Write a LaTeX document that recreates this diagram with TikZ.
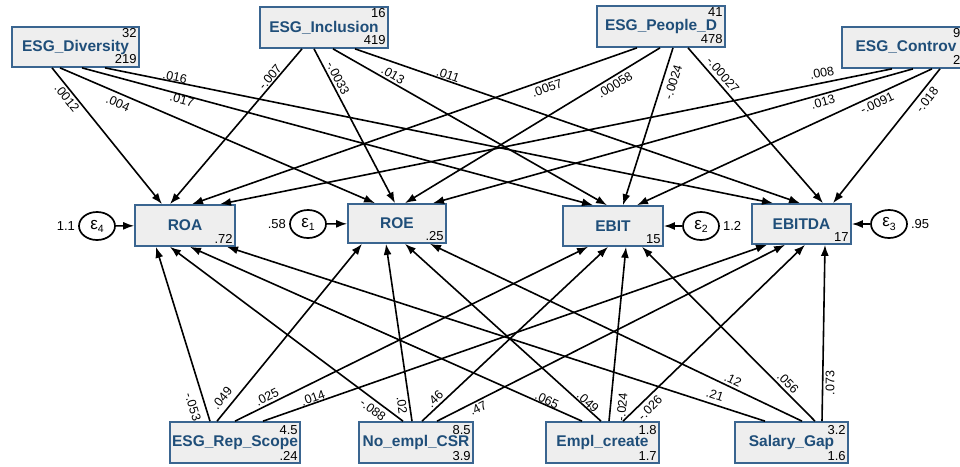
\documentclass[tikz,border=0pt]{standalone}
\usepackage{fontspec}
\setmainfont{Liberation Sans}
\usetikzlibrary{arrows.meta,shapes.geometric}
\definecolor{boxline}{HTML}{3A6590}
\definecolor{boxfill}{HTML}{EEEEEE}
\definecolor{navy}{HTML}{1F4E79}
\begin{document}
\begin{tikzpicture}[x=1pt,y=-1pt,
  var/.style={draw=boxline, fill=boxfill, line width=1.7pt, inner sep=0pt, text=navy, font=\fontsize{15.5}{18}\selectfont\bfseries},
  num/.style={inner sep=0pt, font=\fontsize{13}{15}\selectfont},
  elab/.style={inner sep=0pt, font=\fontsize{12.5}{14}\selectfont},
  err/.style={draw, ellipse, line width=1.7pt, minimum width=36pt, minimum height=28pt, inner sep=0pt, font=\fontsize{17}{19}\selectfont},
  arr/.style={line width=1.6pt, -{Latex[length=11pt,width=8pt]}},
]
\useasboundingbox (0,0) rectangle (960,466);
\clip (0,0) rectangle (960,466);

% exogenous (top)
\node[var, minimum width=127pt, minimum height=40pt] (div) at (75.5,47) {ESG\_Diversity};
\node[var, minimum width=128pt, minimum height=41pt] (incl) at (324,27.5) {ESG\_Inclusion};
\node[var, minimum width=128pt, minimum height=41pt] (peop) at (661,26.5) {ESG\_People\_D};
\node[var, minimum width=128pt, minimum height=41pt] (cont) at (906,47.5) {ESG\_Controv};
\node[num, anchor=north east] (divm) at ([shift={(-3,2)}]div.north east) {32};
\node[num, anchor=south east] (divv) at ([shift={(-3,-4)}]div.south east) {219};
\node[num, anchor=north east] (inclm) at ([shift={(-3,2)}]incl.north east) {16};
\node[num, anchor=south east] (inclv) at ([shift={(-3,-4)}]incl.south east) {419};
\node[num, anchor=north east] (peopm) at ([shift={(-3,2)}]peop.north east) {41};
\node[num, anchor=south east] (peopv) at ([shift={(-3,-4)}]peop.south east) {478};
\node[num, anchor=north east] (contm) at ([shift={(-3,2)}]cont.north east) {99};
\node[num, anchor=south east] (contv) at ([shift={(-3,-4)}]cont.south east) {20};

% endogenous (middle)
\node[var, minimum width=100pt, minimum height=41pt] (roa) at (185,225.5) {ROA};
\node[var, minimum width=98pt, minimum height=39pt] (roe) at (397,223.5) {ROE};
\node[var, minimum width=100pt, minimum height=40pt] (ebit) at (613,226) {EBIT};
\node[var, minimum width=99pt, minimum height=40pt] (ebitda) at (801.5,224) {EBITDA};
\node[num, anchor=south east] (roai) at ([shift={(-3,-3)}]roa.south east) {.72};
\node[num, anchor=south east] (roei) at ([shift={(-3,-3)}]roe.south east) {.25};
\node[num, anchor=south east] (ebiti) at ([shift={(-3,-3)}]ebit.south east) {15};
\node[num, anchor=south east] (ebitdai) at ([shift={(-3,-3)}]ebitda.south east) {17};

% exogenous (bottom)
\node[var, minimum width=130pt, minimum height=41pt] (rep) at (235,442.5) {ESG\_Rep\_Scope};
\node[var, minimum width=114pt, minimum height=41pt] (noe) at (416,442.5) {No\_empl\_CSR};
\node[var, minimum width=113pt, minimum height=41pt] (emp) at (602.5,442.5) {Empl\_create};
\node[var, minimum width=113pt, minimum height=41pt] (sal) at (791.5,442.5) {Salary\_Gap};
\node[num, anchor=north east] (repm) at ([shift={(-3,4)}]rep.north east) {4.5};
\node[num, anchor=south east] (repv) at ([shift={(-3,-3)}]rep.south east) {.24};
\node[num, anchor=north east] (noem) at ([shift={(-3,4)}]noe.north east) {8.5};
\node[num, anchor=south east] (noev) at ([shift={(-3,-3)}]noe.south east) {3.9};
\node[num, anchor=north east] (empm) at ([shift={(-3,4)}]emp.north east) {1.8};
\node[num, anchor=south east] (empv) at ([shift={(-3,-3)}]emp.south east) {1.7};
\node[num, anchor=north east] (salm) at ([shift={(-3,4)}]sal.north east) {3.2};
\node[num, anchor=south east] (salv) at ([shift={(-3,-3)}]sal.south east) {1.6};

% errors
\node[err] (e4) at (97,226) {ε\raisebox{-0.35ex}{\fontsize{10.5}{11}\selectfont 4}};
\node[err] (e1) at (308,224) {ε\raisebox{-0.35ex}{\fontsize{10.5}{11}\selectfont 1}};
\node[err] (e2) at (701,226) {ε\raisebox{-0.35ex}{\fontsize{10.5}{11}\selectfont 2}};
\node[err] (e3) at (889,224) {ε\raisebox{-0.35ex}{\fontsize{10.5}{11}\selectfont 3}};
\node[num, anchor=east] (v4) at ([xshift=-3pt]e4.west) {1.1};
\node[num, anchor=east] (v1) at ([xshift=-3pt]e1.west) {.58};
\node[num, anchor=west] (v2) at ([xshift=3pt]e2.east) {1.2};
\node[num, anchor=west] (v3) at ([xshift=3pt]e3.east) {.95};
\draw[arr] (e4) -- (roa);
\draw[arr] (e1) -- (roe);
\draw[arr] (e2) -- (ebit);
\draw[arr] (e3) -- (ebitda);

% top paths
\draw[arr] ([xshift=-23.5pt]div.south) -- ([xshift=-23pt]roa.north);
\draw[arr] ([xshift=-15.5pt]div.south) -- ([xshift=-22pt]roe.north);
\draw[arr] ([xshift=6.5pt]div.south) -- ([xshift=-20pt]ebit.north);
\draw[arr] ([xshift=29.5pt]div.south) -- ([xshift=-28.5pt]ebitda.north);
\draw[arr] ([xshift=-22pt]incl.south) -- ([xshift=-15pt]roa.north);
\draw[arr] ([xshift=-10pt]incl.south) -- ([xshift=-2pt]roe.north);
\draw[arr] ([xshift=9pt]incl.south) -- ([xshift=-6pt]ebit.north);
\draw[arr] ([xshift=31pt]incl.south) -- ([xshift=-1.5pt]ebitda.north);
\draw[arr] ([xshift=-24pt]peop.south) -- ([xshift=7pt]roa.north);
\draw[arr] ([xshift=-1pt]peop.south) -- ([xshift=8pt]roe.north);
\draw[arr] ([xshift=12pt]peop.south) -- ([xshift=10pt]ebit.north);
\draw[arr] ([xshift=27pt]peop.south) -- ([xshift=21.5pt]ebitda.north);
\draw[arr] ([xshift=-14pt]cont.south) -- ([xshift=35pt]roa.north);
\draw[arr] ([xshift=7pt]cont.south) -- ([xshift=36pt]roe.north);
\draw[arr] ([xshift=26pt]cont.south) -- ([xshift=24pt]ebit.north);
\draw[arr] ([xshift=34pt]cont.south) -- ([xshift=31.5pt]ebitda.north);

% bottom paths
\draw[arr] ([xshift=-25pt]rep.north) -- ([xshift=-29pt]roa.south);
\draw[arr] ([xshift=-18pt]rep.north) -- ([xshift=-35pt]roe.south);
\draw[arr] ([xshift=0pt]rep.north) -- ([xshift=-25pt]ebit.south);
\draw[arr] ([xshift=28pt]rep.north) -- ([xshift=-34.5pt]ebitda.south);
\draw[arr] ([xshift=-13pt]noe.north) -- ([xshift=-15pt]roa.south);
\draw[arr] ([xshift=-4pt]noe.north) -- ([xshift=-11pt]roe.south);
\draw[arr] ([xshift=6pt]noe.north) -- ([xshift=-5pt]ebit.south);
\draw[arr] ([xshift=21pt]noe.north) -- ([xshift=-16.5pt]ebitda.south);
\draw[arr] ([xshift=-20.5pt]emp.north) -- ([xshift=5pt]roa.south);
\draw[arr] ([xshift=-1.5pt]emp.north) -- ([xshift=8pt]roe.south);
\draw[arr] ([xshift=6.5pt]emp.north) -- ([xshift=13pt]ebit.south);
\draw[arr] ([xshift=20.5pt]emp.north) -- ([xshift=3.5pt]ebitda.south);
\draw[arr] ([xshift=-26.5pt]sal.north) -- ([xshift=42pt]roa.south);
\draw[arr] ([xshift=10.5pt]sal.north) -- ([xshift=33pt]roe.south);
\draw[arr] ([xshift=23.5pt]sal.north) -- ([xshift=29pt]ebit.south);
\draw[arr] ([xshift=30.5pt]sal.north) -- ([xshift=23.5pt]ebitda.south);

% coefficient labels (top)
\node[elab, rotate=-51.4] (t1) at (67,98) {.0012};
\node[elab, rotate=-23.5] (t2) at (118,103) {.004};
\node[elab, rotate=-15.2] (t3) at (182,100) {.017};
\node[elab, rotate=-11.6] (t4) at (175,77) {.016};
\node[elab, rotate=50] (t5) at (270,77) {-.007};
\node[elab, rotate=-62.6] (t6) at (338,78) {-.0033};
\node[elab, rotate=-30] (t7) at (393,75) {.013};
\node[elab, rotate=-19.3] (t8) at (448,75) {.011};
\node[elab, rotate=19.5] (t9) at (547,88) {.0057};
\node[elab, rotate=31.6] (t10) at (615,85) {.00058};
\node[elab, rotate=72.5] (t11) at (673,82) {-.0024};
\node[elab, rotate=-49.3] (t12) at (723,75) {-.00027};
\node[elab, rotate=11.5] (t13) at (822,73) {.008};
\node[elab, rotate=15.8] (t14) at (823,102) {.013};
\node[elab, rotate=25.1] (t15) at (877,103) {-.0091};
\node[elab, rotate=51.8] (t16) at (927,100) {-.018};

% coefficient labels (bottom)
\node[elab, rotate=-73] (b1) at (193,407) {-.053};
\node[elab, rotate=51] (b2) at (222,398) {.049};
\node[elab, rotate=26.5] (b3) at (267,397) {.025};
\node[elab, rotate=19.5] (b4) at (313,398) {.014};
\node[elab, rotate=-37] (b5) at (373,410) {-.088};
\node[elab, rotate=-82] (b6) at (402,405) {.02};
\node[elab, rotate=43.4] (b7) at (435,399) {.46};
\node[elab, rotate=27] (b8) at (478,408) {.47};
\node[elab, rotate=-24.2] (b9) at (547,400) {.065};
\node[elab, rotate=-42.4] (b10) at (588,402) {.049};
\node[elab, rotate=84.5] (b11) at (622,407) {-.024};
\node[elab, rotate=44.4] (b12) at (650,408) {-.026};
\node[elab, rotate=-18.1] (b13) at (715,395) {.21};
\node[elab, rotate=-25.7] (b14) at (733,380) {.12};
\node[elab, rotate=-45.5] (b15) at (788,383) {.056};
\node[elab, rotate=90] (b16) at (830,383) {.073};
\end{tikzpicture}
\end{document}
